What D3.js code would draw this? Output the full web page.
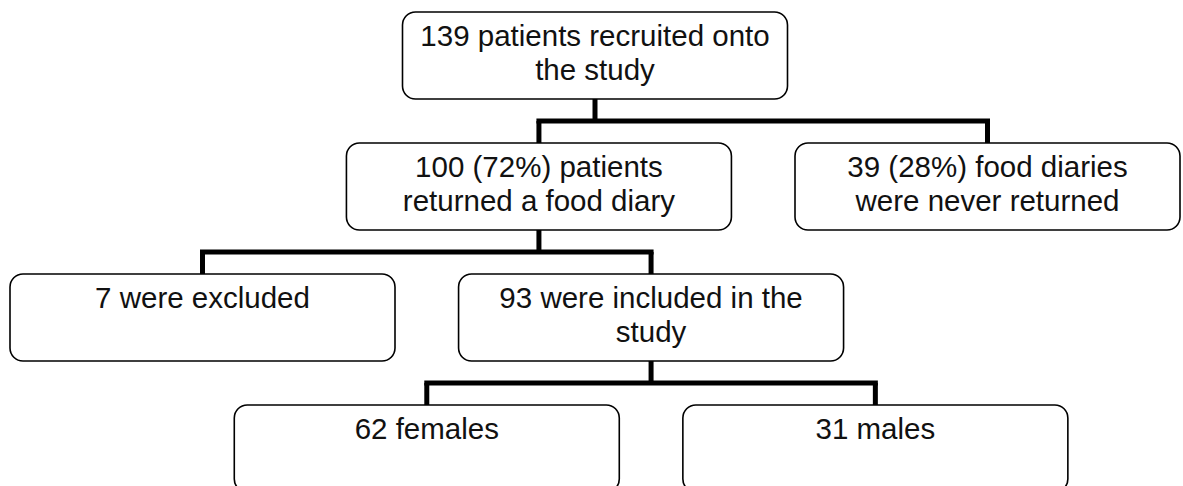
<!DOCTYPE html>
<html>
<head>
<meta charset="utf-8">
<script src="https://cdn.jsdelivr.net/npm/d3@7"></script>
<style>
  body { margin: 0; background: #fff; }
  svg { display: block; }
  .box { fill: #fff; stroke: #000; stroke-width: 1.6; }
  .link { fill: none; stroke: #000; stroke-width: 5; }
  .label { font-family: "Liberation Sans", Arial, sans-serif; font-size: 29.5px; fill: #111; text-anchor: middle; }
</style>
</head>
<body>
<svg width="1183" height="486"></svg>
<script>
var svg = d3.select("svg");

// flowchart contents
var labels = [
    ["139 patients recruited onto", "the study"],
    ["100 (72%) patients", "returned a food diary"],
    ["39 (28%) food diaries", "were never returned"],
    ["7 were excluded"],
    ["93 were included in the", "study"],
    ["62 females"],
    ["31 males"]
];
var levels  = [0, 1, 1, 2, 2, 3, 3];
var columns = [7, 6, 14, 0, 8, 4, 12];
var parents = [null, 0, 0, 1, 1, 4, 4];

var boxW = 385, boxH = 87;

// grid -> pixels
var x = d3.scaleLinear().domain([0, 14]).range([202.5, 987.5]);
var y = d3.scaleLinear().domain([0, 3]).range([12, 405]);

var nodes = labels.map(function(l, i) {
    return { i: i, lines: l, cx: x(columns[i]), top: y(levels[i]), parent: parents[i] };
});

// connectors: one elbow group per parent
var byParent = d3.group(nodes.filter(function(n) { return n.parent !== null; }),
                        function(n) { return n.parent; });
byParent.forEach(function(kids, p) {
    var par = nodes[p];
    var bottom = par.top + boxH;
    var mid = (bottom + kids[0].top) / 2;
    var xs = kids.map(function(k) { return k.cx; });
    var g = svg.append("g").attr("class", "links");
    g.append("line").attr("class", "link")
        .attr("x1", par.cx).attr("x2", par.cx)
        .attr("y1", bottom).attr("y2", mid);
    g.append("line").attr("class", "link")
        .attr("x1", d3.min(xs) - 2.5).attr("x2", d3.max(xs) + 2.5)
        .attr("y1", mid).attr("y2", mid);
    kids.forEach(function(k) {
        g.append("line").attr("class", "link")
            .attr("x1", k.cx).attr("x2", k.cx)
            .attr("y1", mid).attr("y2", k.top);
    });
});

// boxes
var b = svg.selectAll(".node")
    .data(nodes)
    .enter().append("g")
    .attr("class", "node")
    .attr("transform", function(d) { return "translate(" + d.cx + "," + d.top + ")"; });

b.append("rect")
    .attr("class", "box")
    .attr("x", -boxW / 2)
    .attr("y", 0)
    .attr("width", boxW)
    .attr("height", boxH)
    .attr("rx", 13).attr("ry", 13);

b.each(function(d) {
    var t = d3.select(this).append("text").attr("class", "label");
    d.lines.forEach(function(s, j) {
        t.append("tspan").attr("x", 0).attr("y", 34 + j * 33.5).text(s);
    });
});
</script>
</body>
</html>
